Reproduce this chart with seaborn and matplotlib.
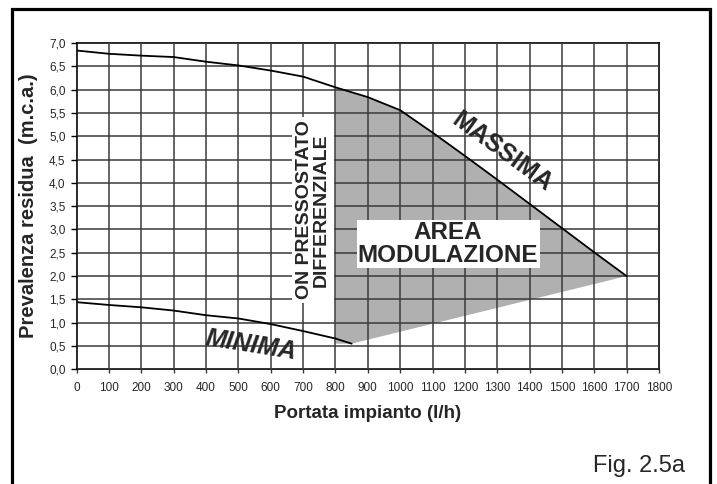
import numpy as np
import pandas as pd
import matplotlib
matplotlib.use("Agg")
import matplotlib.pyplot as plt
from matplotlib.patches import Rectangle
import seaborn as sns

# ---- data ----
max_x = [0, 100, 200, 300, 400, 500, 600, 700, 800, 900, 1000, 1100, 1200, 1300, 1400, 1500, 1600, 1700]
max_y = [6.84, 6.77, 6.73, 6.70, 6.60, 6.52, 6.41, 6.28, 6.05, 5.84, 5.56, 5.08, 4.58, 4.07, 3.55, 3.03, 2.51, 2.00]
min_x = [0, 100, 200, 300, 400, 500, 600, 700, 800, 850]
min_y = [1.44, 1.38, 1.33, 1.26, 1.16, 1.09, 0.97, 0.82, 0.66, 0.55]
area_low_x = [800, 850, 1700]
area_low_y = [0.55, 0.55, 2.00]
x_ticks = list(range(0, 1900, 100))
y_ticks = [0.0, 0.5, 1.0, 1.5, 2.0, 2.5, 3.0, 3.5, 4.0, 4.5, 5.0, 5.5, 6.0, 6.5, 7.0]
y_tick_labels = [f"{v:.1f}".replace(".", ",") for v in y_ticks]

sns.set_style("white")
plt.rcParams['font.family'] = ['Liberation Sans', 'DejaVu Sans']

fig = plt.figure(figsize=(7.17, 4.84), dpi=100)
ax = fig.add_axes([0.107, 0.237, 0.812, 0.674])

# shaded modulation area
up = [(x, y) for x, y in zip(max_x, max_y) if x >= 800]
poly_x = area_low_x + [p[0] for p in reversed(up)]
poly_y = area_low_y + [p[1] for p in reversed(up)]
ax.fill(poly_x, poly_y, color='#b0b0b0', lw=0, zorder=1)

df_max = pd.DataFrame({'x': max_x, 'y': max_y})
df_min = pd.DataFrame({'x': min_x, 'y': min_y})
sns.lineplot(data=df_max, x='x', y='y', ax=ax, color='black', lw=1.3, zorder=3)
sns.lineplot(data=df_min, x='x', y='y', ax=ax, color='black', lw=1.3, zorder=3)

ax.set_xlim(0, 1800)
ax.set_ylim(0, 7.0)
ax.set_xticks(x_ticks)
ax.set_xticklabels([str(t) for t in x_ticks], fontsize=8.5)
ax.set_yticks(y_ticks)
ax.set_yticklabels(y_tick_labels, fontsize=8.5)
ax.set_axisbelow(False)
ax.grid(True, color='#3a3a3a', lw=1.1, zorder=2)
for s in ax.spines.values():
    s.set_color('black')
    s.set_linewidth(1.2)
ax.tick_params(axis='y', length=4, width=1, color='black', pad=4, direction='out', left=True)
ax.tick_params(axis='x', length=3, width=1, color='#3a3a3a', pad=6, direction='out', bottom=True)

ax.set_xlabel('Portata impianto (l/h)', fontsize=13.5, fontweight='bold', labelpad=8)
ax.set_ylabel('Prevalenza residua  (m.c.a.)', fontsize=14.5, fontweight='bold', labelpad=8)

ax.text(731, 3.42, 'ON PRESSOSTATO\nDIFFERENZIALE', rotation=90, ha='center', va='center',
        fontsize=14, fontweight='bold', linespacing=1.0, zorder=5,
        bbox=dict(boxstyle='square,pad=0.2', fc='white', ec='none'))
ax.text(1148, 2.69, 'AREA\nMODULAZIONE', ha='center', va='center', fontsize=17.5,
        fontweight='bold', linespacing=1.0, zorder=5,
        bbox=dict(boxstyle='square,pad=0.05', fc='white', ec='none'))
ax.text(1315, 4.66, 'MASSIMA', rotation=-36, rotation_mode='anchor', ha='center', va='center',
        fontsize=18, fontweight='bold', zorder=5)
ax.text(539, 0.52, 'MINIMA', rotation=-9, rotation_mode='anchor', ha='center', va='center',
        fontsize=18, fontweight='bold', style='italic', zorder=5)

fig.text(0.955, 0.037, 'Fig. 2.5a', ha='right', va='center', fontsize=17)

fig.patches.append(Rectangle((0.0167, -0.1), 0.973, 1.081, transform=fig.transFigure,
                             fill=False, ec='black', lw=2.3, figure=fig))

fig.savefig('out.png', dpi=100)
